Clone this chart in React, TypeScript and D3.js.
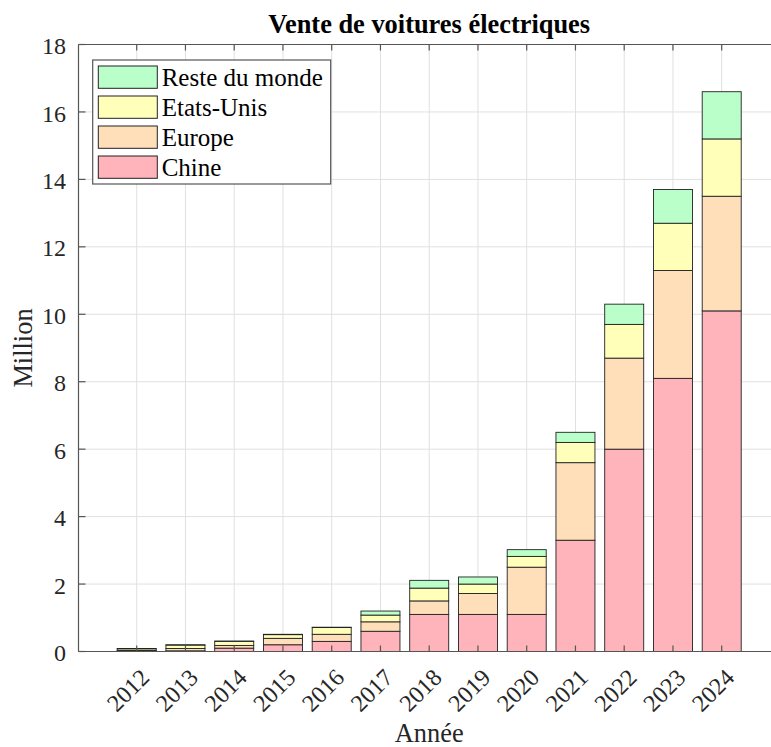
import React from "react";
import * as d3 from "d3";

const years = [2012, 2013, 2014, 2015, 2016, 2017, 2018, 2019, 2020, 2021, 2022, 2023, 2024];
const chine = [0.01, 0.02, 0.1, 0.2, 0.3, 0.6, 1.1, 1.1, 1.1, 3.3, 6.0, 8.1, 10.1];
const europe = [0.02, 0.07, 0.08, 0.19, 0.21, 0.28, 0.4, 0.62, 1.4, 2.3, 2.7, 3.2, 3.4];
const etatsUnis = [0.05, 0.1, 0.12, 0.11, 0.2, 0.2, 0.38, 0.28, 0.32, 0.6, 1.0, 1.4, 1.7];
const resteMonde = [0.01, 0.01, 0.01, 0.01, 0.01, 0.12, 0.23, 0.21, 0.2, 0.3, 0.6, 1.0, 1.4];
const seriesNames = ["Chine", "Europe", "Etats-Unis", "Reste du monde"];
const seriesColors = ["#ffb3ba", "#ffdfba", "#ffffba", "#baffc9"];
const yTicks = [0, 2, 4, 6, 8, 10, 12, 14, 16, 18];

const W = 771;
const H = 747;
const FONT = "'Liberation Serif', 'Times New Roman', serif";

export default function App() {
  const left = 78.5;
  const top = 44.5;
  const bottom = 651.5;
  const step = 48.75;
  const pad = 1.194;
  const x = d3
    .scaleLinear()
    .domain([2012 - pad, 2024 + pad])
    .range([left, left + step * (12 + 2 * pad)]);
  const right = x(2024 + pad);
  const y = d3.scaleLinear().domain([0, 18]).range([bottom, top]);
  const barW = step * 0.8;

  const rows = years.map((yr, i) => ({
    year: yr,
    Chine: chine[i],
    Europe: europe[i],
    "Etats-Unis": etatsUnis[i],
    "Reste du monde": resteMonde[i],
  }));
  const stacked = d3.stack<any>().keys(seriesNames)(rows);

  const axisColor = "#555";
  const gridColor = "#e0e0e0";

  const legendX = 92.7;
  const legendY = 60;
  const legendW = 238;
  const legendH = 124;
  const legendItems = [...seriesNames].reverse();

  return (
    <svg
      width={W}
      height={H}
      style={{ position: "fixed", left: 0, top: 0, background: "#fff" }}
      fontFamily={FONT}
    >
      <rect x={0} y={0} width={W} height={H} fill="#fff" />
      {/* grid */}
      {yTicks.map((t) => (
        <line key={"gy" + t} x1={left} x2={right} y1={y(t)} y2={y(t)} stroke={gridColor} strokeWidth={1} />
      ))}
      {years.map((yr) => (
        <line key={"gx" + yr} x1={x(yr)} x2={x(yr)} y1={top} y2={bottom} stroke={gridColor} strokeWidth={1} />
      ))}
      {/* bars */}
      {stacked.map((s, si) =>
        s.map((d, i) => (
          <rect
            key={si + "-" + i}
            x={x(years[i]) - barW / 2}
            y={y(d[1])}
            width={barW}
            height={Math.max(0, y(d[0]) - y(d[1]))}
            fill={seriesColors[si]}
            stroke="#222"
            strokeWidth={0.9}
          />
        ))
      )}
      {/* axes box */}
      <line x1={left} x2={left} y1={top} y2={bottom} stroke={axisColor} strokeWidth={1.2} />
      <line x1={left} x2={right} y1={bottom} y2={bottom} stroke={axisColor} strokeWidth={1.2} />
      <line x1={left} x2={right} y1={top} y2={top} stroke={axisColor} strokeWidth={1.2} />
      <line x1={right} x2={right} y1={top} y2={bottom} stroke={axisColor} strokeWidth={1.2} />
      {/* y ticks */}
      {yTicks.map((t) => (
        <g key={"yt" + t}>
          <line x1={left} x2={left + 7} y1={y(t)} y2={y(t)} stroke={axisColor} strokeWidth={1.2} />
          <text x={66} y={y(t)} dy="0.4em" textAnchor="end" fontSize={24} fill="#262626">
            {t}
          </text>
        </g>
      ))}
      {/* x ticks */}
      {years.map((yr) => (
        <g key={"xt" + yr}>
          <line x1={x(yr)} x2={x(yr)} y1={bottom} y2={bottom - 6} stroke={axisColor} strokeWidth={1.2} />
          <line x1={x(yr)} x2={x(yr)} y1={top} y2={top + 6} stroke={axisColor} strokeWidth={1.2} />
          <text
            transform={`translate(${x(yr) + 14},${679}) rotate(-45)`}
            textAnchor="end"
            fontSize={24}
            fill="#262626"
          >
            {yr}
          </text>
        </g>
      ))}
      {/* labels */}
      <text x={(left + right) / 2} y={33} textAnchor="middle" fontSize={26.4} fontWeight="bold" fill="#000">
        Vente de voitures électriques
      </text>
      <text x={(left + right) / 2} y={742} textAnchor="middle" fontSize={26.4} fill="#262626">
        Année
      </text>
      <text
        transform={`translate(32,${(top + bottom) / 2}) rotate(-90)`}
        textAnchor="middle"
        fontSize={26.4}
        fill="#262626"
      >
        Million
      </text>
      {/* legend */}
      <rect x={legendX} y={legendY} width={legendW} height={legendH} fill="#fff" stroke={axisColor} strokeWidth={1.2} />
      {legendItems.map((name, i) => {
        const ci = seriesNames.indexOf(name);
        const ry = 66 + i * 30;
        return (
          <g key={name}>
            <rect x={98.3} y={ry} width={59} height={22.3} fill={seriesColors[ci]} stroke="#222" strokeWidth={1} />
            <text x={161.7} y={ry + 20} fontSize={25} fill="#000">
              {name}
            </text>
          </g>
        );
      })}
    </svg>
  );
}
